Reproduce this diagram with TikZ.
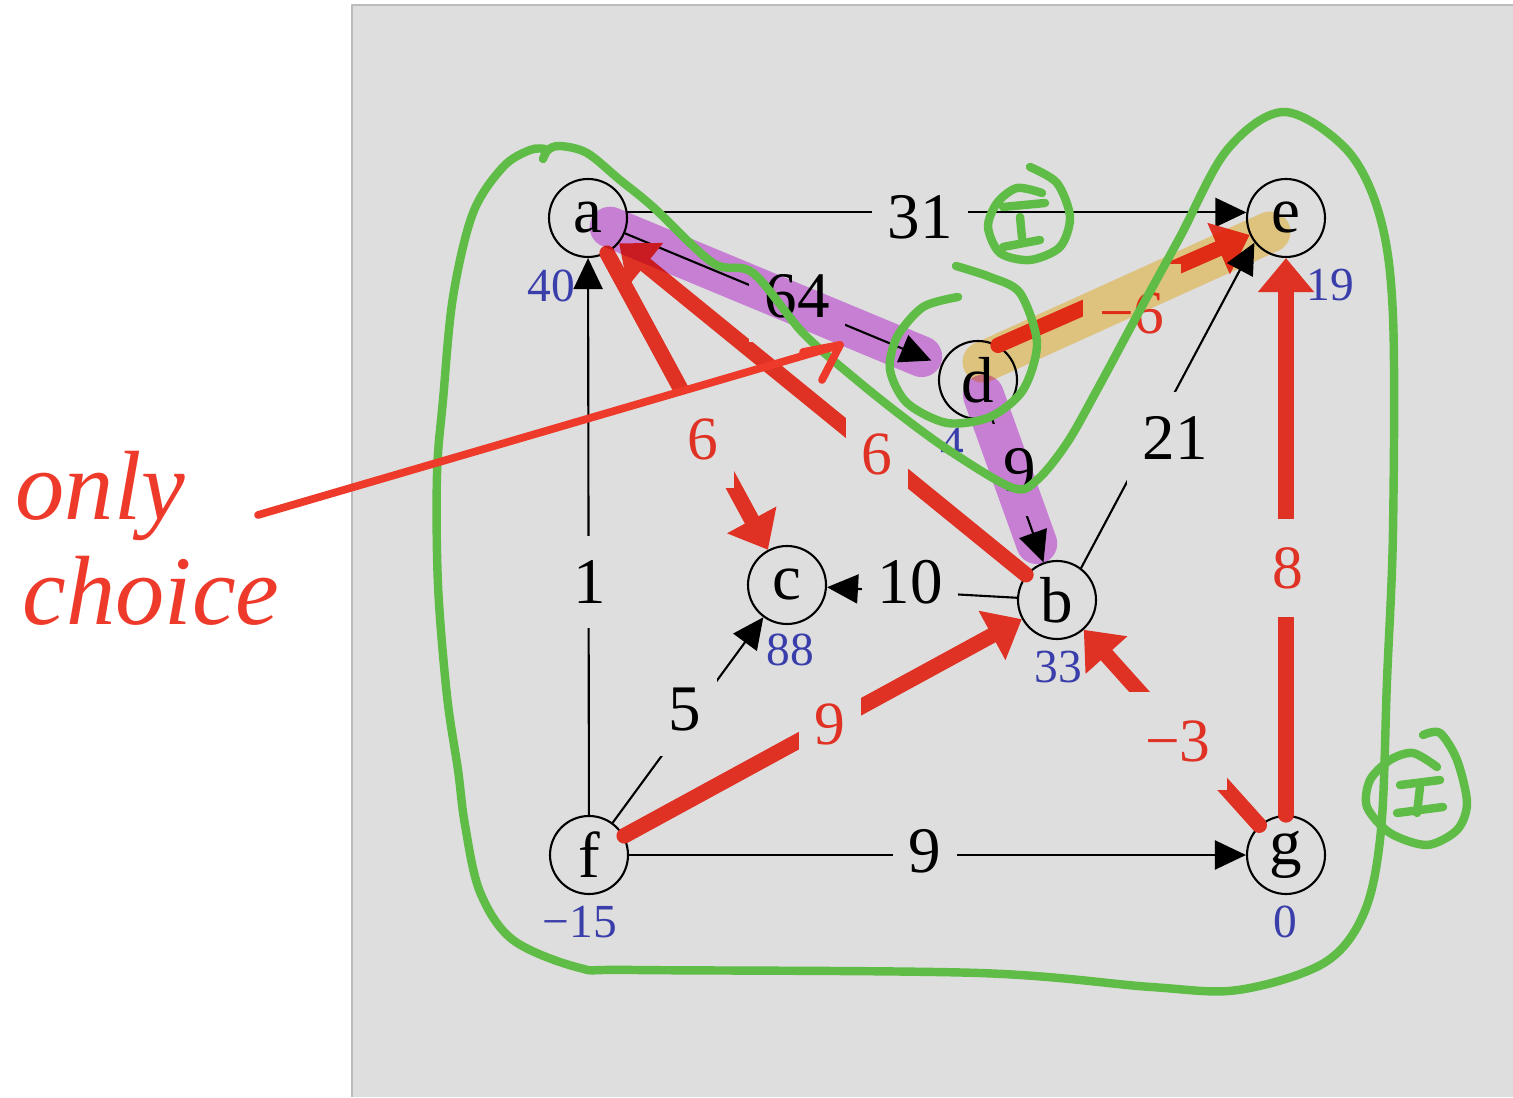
\documentclass[tikz,border=0pt]{standalone}
\usepackage{fontspec}
\setmainfont{Liberation Serif}
\usetikzlibrary{arrows.meta}

\definecolor{panel}{RGB}{222,222,222}
\definecolor{panelrule}{RGB}{188,188,188}
\definecolor{treered}{RGB}{224,50,36}
\definecolor{distblue}{RGB}{58,62,170}
\definecolor{penred}{RGB}{238,58,43}
\definecolor{pengreen}{RGB}{95,188,70}
\definecolor{markpurple}{RGB}{228,147,243}
\definecolor{marktan}{RGB}{255,225,147}

\tikzset{
  vert/.style={circle,draw,line width=0.6pt,minimum size=0.78cm,inner sep=0pt,
    font=\fontsize{18.5}{18.5}\selectfont},
  edge/.style={line width=0.6pt,-{Triangle[length=0.31cm,width=0.29cm]}},
  tree/.style={treered,line width=0.155cm,-{Triangle[length=0.34cm,width=0.54cm]}},
  wt/.style={fill=panel,inner xsep=4.5pt,inner ysep=7pt,font=\fontsize{18.5}{18.5}\selectfont},
  twt/.style={wt,text=treered,inner ysep=8pt,font=\fontsize{17.5}{17.5}\selectfont},
  dist/.style={text=distblue,inner sep=0pt,font=\fontsize{13.5}{13.5}\selectfont},
  marker/.style={line width=0.41cm,line cap=round},
  pen/.style={pengreen,line width=2.4pt},
  note/.style={text=penred,inner sep=0pt,anchor=base west,font=\fontsize{28}{28}\selectfont\itshape},
}

\begin{document}
\begin{tikzpicture}[line cap=round,line join=round]
  \useasboundingbox (0,0) rectangle (15.13,10.97);
  \fill[panel] (3.52,0) rectangle (15.13,10.92);
  \draw[panelrule,line width=0.6pt,line cap=butt] (3.52,0) -- (3.52,10.92) -- (15.13,10.92);

  % vertices
  \node[vert] (a) at (5.88,8.79) {a};
  \node[vert] (e) at (12.86,8.79) {e};
  \node[vert] (d) at (9.78,7.17) {d};
  \node[vert] (c) at (7.87,5.12) {c};
  \node[vert] (b) at (10.57,4.97) {b};
  \node[vert] (f) at (5.89,2.42) {f};
  \node[vert] (g) at (12.86,2.42) {g};

  % graph edges
  \draw[edge] (a.8) -- (e.172);
  \draw[edge,shorten >=3pt] (a) -- (d);
  \draw[edge] (f) -- (a);
  \draw[edge] (f) -- (c);
  \draw[edge] (b) -- (c);
  \draw[edge] (d) -- (b);
  \draw[edge] (f) -- (g);

  % shortest-path tree
  \draw[tree] (f) -- (b);
  \draw[tree] (g) -- (b);
  \draw[tree] (g) -- (e);
  \draw[tree] (b) -- (a);
  \draw[tree] (a) -- (c);
  \draw[tree] (d.60) -- (e.205);
  \draw[edge] (b.53) -- (e.218);

  % weights
  \node[wt] (wae) at (9.20,8.80) {31};
  \node[wt] (wad) at (7.97,8.01) {64};
  \node[wt] (wfa) at (5.90,5.15) {1};
  \node[wt] (wfc) at (6.85,3.87) {5};
  \node[wt] (wbc) at (9.10,5.15) {10};
  \node[wt] (wdb) at (10.20,6.27) {9};
  \node[wt] (wbe) at (11.75,6.59) {21};
  \node[wt] (wfg) at (9.25,2.46) {9};
  \node[twt] (wfb) at (8.30,3.73) {9};
  \node[twt] (wgb) at (11.78,3.56) {−3};
  \node[twt] (wge) at (12.88,5.29) {8};
  \node[twt] (wba) at (8.77,6.43) {6};
  \node[twt] (wac) at (7.03,6.58) {6};
  \node[twt] (wde) at (11.32,7.84) {−6};

  % distances
  \node[dist] (da) at (5.51,8.11) {40};
  \node[dist] (de) at (13.30,8.12) {19};
  \node[dist] (dd) at (9.52,6.53) {4};
  \node[dist] (dc) at (7.90,4.47) {88};
  \node[dist] (db) at (10.58,4.30) {33};
  \node[dist] (df) at (5.80,1.75) {−15};
  \node[dist] (dg) at (12.85,1.75) {0};

  % highlighter strokes
  \begin{scope}[blend mode=multiply]
    \draw[marker,markpurple,shorten <=0.24cm,shorten >=0.61cm] (a.center) -- (d.center);
    \draw[marker,markpurple,shorten <=0.16cm,shorten >=0.6cm] (d.center) -- (b.center);
    \draw[marker,marktan] ([shift={(0.05,0.18)}]d.center) -- ([shift={(-0.16,-0.14)}]e.center);
  \end{scope}

  % green pen
  \draw[pen] plot[smooth,tension=0.55] coordinates {(5.43,9.38) (5.48,9.47) (5.60,9.51)
    (5.87,9.44) (6.20,9.17) (6.53,8.90) (7.13,8.34) (7.53,8.24) (8.03,7.64) (8.53,7.20)
    (9.03,6.80) (9.53,6.44) (10.13,6.09) (10.37,6.17) (10.67,6.54) (10.97,7.07) (11.40,7.87)
    (11.80,8.60) (12.27,9.47) (12.84,9.85) (13.47,9.47) (13.80,8.80) (13.93,7.80) (13.93,5.67)
    (13.87,4.17) (13.81,2.67) (13.64,1.84) (13.24,1.34) (12.38,1.07) (11.51,1.10) (9.79,1.24)
    (6.35,1.27) (5.80,1.29) (5.13,1.57) (4.80,2.05) (4.65,2.72) (4.58,3.27) (4.47,4.01)
    (4.38,5.12) (4.37,6.23) (4.43,6.97) (4.53,8.00) (4.73,8.84) (5.03,9.30) (5.30,9.47) (5.45,9.48)};
  \draw[pen] plot[smooth] coordinates {(9.56,8.31) (9.90,8.20) (10.20,8.04) (10.37,7.54)
    (10.23,7.07) (9.90,6.80) (9.47,6.74) (9.07,6.94) (8.90,7.27) (8.97,7.60) (9.23,7.90) (9.58,8.00)};
  \draw[pen] plot[smooth] coordinates {(10.30,9.30) (10.57,9.14) (10.70,8.80) (10.60,8.50)
    (10.30,8.37) (10.00,8.44) (9.88,8.70) (9.97,8.94) (10.17,9.09) (10.42,9.04)};
  \draw[pen] (10.03,8.90) -- (10.45,8.94);
  \draw[pen] (10.20,8.80) -- (10.22,8.59);
  \draw[pen] (10.03,8.50) -- (10.40,8.57);
  \draw[pen] plot[smooth] coordinates {(14.23,3.62) (14.40,3.64) (14.57,3.37) (14.67,2.94)
    (14.57,2.67) (14.27,2.52) (13.90,2.64) (13.67,2.90) (13.70,3.17) (13.90,3.37) (14.13,3.44) (14.37,3.30)};
  \draw[pen] (14.00,3.12) -- (14.40,3.17);
  \draw[pen] (14.20,3.10) -- (14.17,2.84);
  \draw[pen] (13.97,2.84) -- (14.43,2.90);

  % note
  \node[note] (only) at (0.15,5.77) {only};
  \node[note] (choice) at (0.22,4.72) {choice};
  \coordinate (ns) at (2.58,5.82);
  \coordinate (nt) at (8.40,7.52);
  \draw[penred,line width=2.2pt] (ns) -- (nt);
  \draw[penred,line width=2.2pt] (8.03,7.45) -- (nt) -- (8.22,7.17);
\end{tikzpicture}
\end{document}
